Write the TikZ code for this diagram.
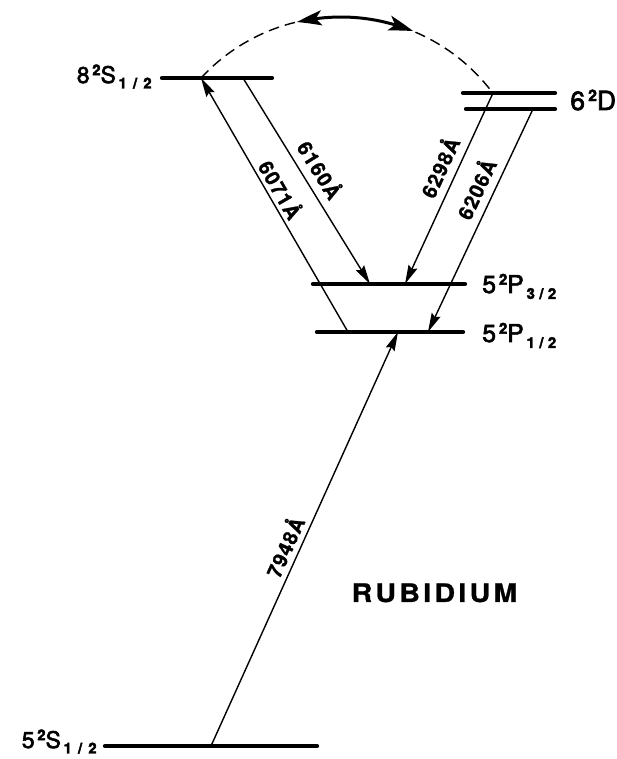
\documentclass[tikz,border=0pt]{standalone}
\usepackage{fontspec}
\setmainfont{TeX Gyre Heros}
\newfontfamily\lvlfont[FakeBold=2.5]{TeX Gyre Heros}
\newfontfamily\wlfont[LetterSpace=5,FakeBold=1.2]{TeX Gyre Heros}
\newfontfamily\namefont[LetterSpace=13,FakeStretch=1.12,FakeBold=1]{TeX Gyre Heros}
\usetikzlibrary{arrows.meta,bending}
% base size, small size, spacing in J, digit, multiplicity, letter, J
\newcommand{\statelabel}[7]{\lvlfont\fontsize{#1}{#1}\selectfont #4\hspace{0.12em}\raisebox{0.34em}{\fontsize{#2}{#2}\selectfont\bfseries #5}#6\hspace{0.12em}\raisebox{-0.24em}{\fontsize{#2}{#2}\selectfont\bfseries\def\jsp{\hspace{#3}}#7}}
\begin{document}
\begin{tikzpicture}[
  level/.style={line width=2.4pt, line cap=round},
  lname/.style={inner sep=0pt},
  trans/.style={line width=0.8pt, -{Stealth[length=3.8mm,width=1.9mm,inset=0.5mm]}},
  wl/.style={font={\wlfont\bfseries\fontsize{11.5}{13}\selectfont}, inner sep=0pt, sloped}
]
\useasboundingbox (0,0) rectangle (12.32,15.18);
\coordinate (s8l) at (3.24,13.62);
\coordinate (s8r) at (5.44,13.62);
\coordinate (d5l) at (9.26,13.32);
\coordinate (d5r) at (11.10,13.32);
\coordinate (d3l) at (9.32,13.00);
\coordinate (d3r) at (11.10,13.00);
\coordinate (p3l) at (6.26,9.50);
\coordinate (p3r) at (9.30,9.50);
\coordinate (p1l) at (6.34,8.54);
\coordinate (p1r) at (9.26,8.54);
\coordinate (s5l) at (2.10,0.26);
\coordinate (s5r) at (6.34,0.26);
\draw[level] (s8l) -- (s8r);
\draw[level] (d5l) -- (d5r);
\draw[level] (d3l) -- (d3r);
\draw[level] (p3l) -- (p3r);
\draw[level] (p1l) -- (p1r);
\draw[level] (s5l) -- (s5r);
\node[lname, anchor=base east, xshift=-0.2cm, yshift=-0.1cm] (s8name) at (s8l) {\statelabel{13}{8.5}{3.5pt}{8}{2}{S}{1\jsp/\jsp2}};
\node[lname, anchor=base west, xshift=0.3cm, yshift=-0.34cm] (dname) at (d5r) {\statelabel{15}{9}{0pt}{6}{2}{D}{}};
\node[lname, anchor=base west, xshift=0.34cm, yshift=-0.18cm] (p3name) at (p3r) {\statelabel{14}{8.5}{2.5pt}{5}{2}{P}{3\jsp/\jsp2}};
\node[lname, anchor=base west, xshift=0.38cm, yshift=-0.2cm] (p1name) at (p1r) {\statelabel{14}{8.5}{2.5pt}{5}{2}{P}{1\jsp/\jsp2}};
\node[lname, anchor=base east, xshift=-0.16cm, yshift=-0.04cm] (s5name) at (s5l) {\statelabel{13}{8.5}{3.5pt}{5}{2}{S}{1\jsp/\jsp2}};
\coordinate (w7948b) at (4.22,0.26);
\coordinate (w7948t) at (7.96,8.54);
\coordinate (w6071b) at (6.96,8.54);
\coordinate (w6071t) at (4.02,13.62);
\coordinate (w6160t) at (4.86,13.62);
\coordinate (w6160b) at (7.40,9.50);
\coordinate (w6298t) at (9.86,13.32);
\coordinate (w6298b) at (8.10,9.50);
\coordinate (w6206t) at (10.66,13.00);
\coordinate (w6206b) at (8.56,8.54);
\draw[trans] (w7948b) -- node[wl, pos=0.466, above=3pt] {7948Å} (w7948t);
\draw[trans] (w6071b) -- node[wl, pos=0.535, above=2pt] {6071Å} (w6071t);
\draw[trans] (w6160t) -- node[wl, pos=0.49, above=4.5pt] {6160Å} (w6160b);
\draw[trans] (w6298t) -- node[wl, pos=0.427, above=4.5pt] {6298Å} (w6298b);
\draw[trans] (w6206t) -- node[wl, pos=0.392, above=4.5pt] {6206Å} (w6206b);
\coordinate (arcc) at (6.82,11.04);
\draw[line width=0.8pt, dash pattern=on 6pt off 3.5pt] (w6071t) arc[start angle=137.3, end angle=36.9, radius=3.8];
\draw[line width=1.7pt, {Stealth[length=5mm,width=3mm,inset=1.2mm,bend]}-{Stealth[length=5mm,width=3mm,inset=1.2mm,bend]}] (arcc) ++(103.4:3.8) arc[start angle=103.4, end angle=67.7, radius=3.8];
\node[font={\namefont\bfseries\fontsize{14.5}{16}\selectfont}, anchor=base] (atom) at (8.69,3.14) {RUBIDIUM};
\end{tikzpicture}
\end{document}
